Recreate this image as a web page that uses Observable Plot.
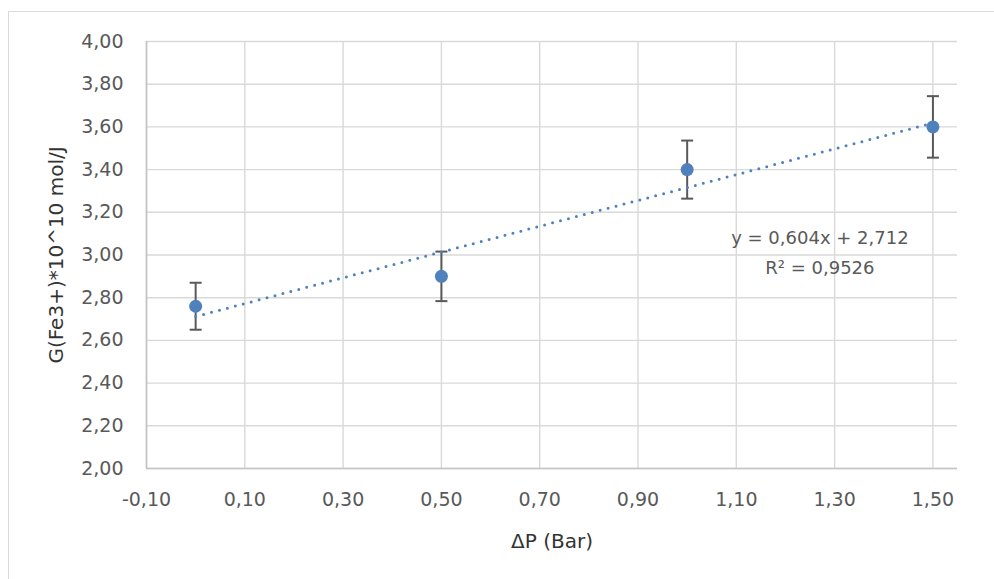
<!DOCTYPE html>
<html>
<head>
<meta charset="utf-8">
<script src="https://cdn.jsdelivr.net/npm/d3@7"></script>
<script src="https://cdn.jsdelivr.net/npm/@observablehq/plot@0.6"></script>
<style>
  html, body { margin: 0; padding: 0; background: #fff; }
  #wrap { position: relative; width: 994px; height: 579px; overflow: hidden; }
  #border { position: absolute; left: 8px; top: 11px; width: 1000px; height: 600px; border: 1px solid #d9d9d9; pointer-events: none; }
</style>
</head>
<body>
<div id="wrap"><div id="border"></div></div>
<script>
// Data
const deltaP = [0, 0.5, 1.0, 1.5];
const gFe3 = [2.76, 2.90, 3.40, 3.60];
const errors = [0.110, 0.116, 0.136, 0.144];

const xTicks = [-0.1, 0.1, 0.3, 0.5, 0.7, 0.9, 1.1, 1.3, 1.5];
const yTicks = [2.0, 2.2, 2.4, 2.6, 2.8, 3.0, 3.2, 3.4, 3.6, 3.8, 4.0];

const xTitle = "ΔP (Bar)";
const yTitle = "G(Fe3+)*10^10 mol/J";
const equationLabel = "y = 0,604x + 2,712\nR² = 0,9526";
const labelAt = {x: 1.27, y: 3.025};

const data = deltaP.map((x, i) => ({x, y: gFe3[i], lo: gFe3[i] - errors[i], hi: gFe3[i] + errors[i]}));
const fmt = d => d.toFixed(2).replace(".", ",");

const blue = "#4F81BD";
const gray = "#595959";
const titleColor = "#333333";

const capSymbol = {
  draw(context, size) {
    const r = 6;
    context.moveTo(-r, 0);
    context.lineTo(r, 0);
  }
};

const caps = data.flatMap(d => [{x: d.x, y: d.lo}, {x: d.x, y: d.hi}]);

const chart = Plot.plot({
  width: 994,
  height: 579,
  marginLeft: 146,
  marginRight: 37,
  marginTop: 41,
  marginBottom: 111,
  style: {fontFamily: "DejaVu Sans", fontSize: "18px", color: gray, background: "transparent"},
  x: {domain: [-0.1, 1.55]},
  y: {domain: [2, 4]},
  marks: [
    Plot.gridX(xTicks, {stroke: "#d9d9d9", strokeOpacity: 1, strokeWidth: 1.4}),
    Plot.gridY(yTicks, {stroke: "#d9d9d9", strokeOpacity: 1, strokeWidth: 1.4}),
    Plot.ruleX([-0.1], {stroke: "#c4c4c4", strokeWidth: 1.6}),
    Plot.ruleY([2], {stroke: "#c4c4c4", strokeWidth: 1.6}),
    Plot.axisX({ticks: xTicks, tickSize: 0, tickPadding: 24, tickFormat: fmt, label: null, fontSize: 19}),
    Plot.axisY({ticks: yTicks, tickSize: 0, tickPadding: 23, tickFormat: fmt, label: null, fontSize: 19}),
    Plot.text([xTitle], {frameAnchor: "bottom", dy: 73, text: d => d, textAnchor: "middle", lineAnchor: "middle", fontSize: 20, fill: titleColor}),
    Plot.text([yTitle], {frameAnchor: "left", dx: -90, rotate: -90, text: d => d, textAnchor: "middle", lineAnchor: "middle", fontSize: 20, fill: titleColor}),
    Plot.ruleX(data, {x: "x", y1: "lo", y2: "hi", stroke: gray, strokeWidth: 2}),
    Plot.dot(caps, {x: "x", y: "y", symbol: capSymbol, stroke: gray, strokeWidth: 2, fill: "none", r: 6}),
    Plot.linearRegressionY(data, {x: "x", y: "y", ci: 0, stroke: blue, strokeWidth: 3, strokeDasharray: "0 8.2", strokeLinecap: "round"}),
    Plot.dot(data, {x: "x", y: "y", r: 6.5, fill: blue, stroke: "none"}),
    Plot.text([labelAt], {x: "x", y: "y", text: () => equationLabel, lineHeight: 1.65, textAnchor: "middle"})
  ]
});
document.getElementById("wrap").prepend(chart);
</script>
</body>
</html>
